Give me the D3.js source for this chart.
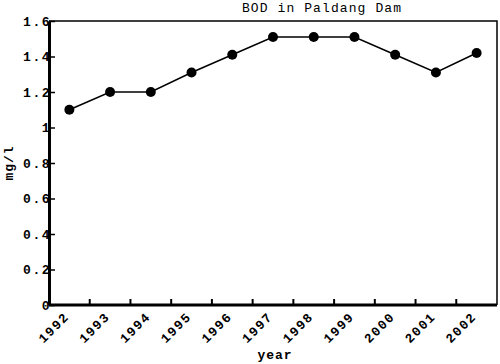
<!DOCTYPE html>
<html>
<head>
<meta charset="utf-8">
<script src="https://cdn.jsdelivr.net/npm/d3@7"></script>
<style>
  body { margin: 0; background: #fff; }
  text { font-family: "Liberation Mono", "DejaVu Sans Mono", monospace; }
</style>
</head>
<body>
<script>
// Daten
const years = ["1992", "1993", "1994", "1995", "1996", "1997", "1998", "1999", "2000", "2001", "2002"];
const bod = [1.1, 1.2, 1.2, 1.31, 1.41, 1.51, 1.51, 1.51, 1.41, 1.31, 1.42];
const yTicks = [0, 0.2, 0.4, 0.6, 0.8, 1, 1.2, 1.4, 1.6];

const margin = {top: 21, right: 3, bottom: 59, left: 49},
      width = 500 - margin.left - margin.right,
      height = 364 - margin.top - margin.bottom;

const svg = d3.select("body").append("svg")
    .attr("width", 500)
    .attr("height", 364);

const g = svg.append("g")
    .attr("transform", `translate(${margin.left},${margin.top})`);

// Skalen
const x = d3.scaleBand().domain(years).range([0, width]);
const y = d3.scaleLinear().domain([0, 1.6]).range([height, 0]);

// Rahmen oben/rechts
g.append("path")
    .attr("d", `M0,0H${width}V${height}`)
    .attr("fill", "none")
    .attr("stroke", "#000")
    .attr("stroke-width", 1.5);

// Y-Achse
const yAxis = g.append("g")
    .call(d3.axisLeft(y).tickValues(yTicks).tickSizeInner(-6).tickSizeOuter(0).tickPadding(0)
        .tickFormat(d => d3.format("")(d)));
yAxis.select(".domain").attr("stroke-width", 3);
yAxis.selectAll(".tick line").attr("stroke-width", 1.5);
yAxis.selectAll(".tick text")
    .attr("font-size", 13)
    .attr("font-weight", "bold")
    .attr("letter-spacing", 1.5)
    .attr("x", 2)
    .attr("fill", "#000");

// X-Achse: Ticks an den Bandgrenzen
const xAxis = g.append("g")
    .attr("transform", `translate(0,${height})`);
xAxis.append("line")
    .attr("x1", 0).attr("x2", width)
    .attr("stroke", "#000").attr("stroke-width", 3);
xAxis.selectAll("line.tk")
    .data(years.slice(1))
    .join("line")
    .attr("class", "tk")
    .attr("x1", d => x(d)).attr("x2", d => x(d))
    .attr("y1", 0).attr("y2", -6)
    .attr("stroke", "#000").attr("stroke-width", 2);
xAxis.selectAll("text")
    .data(years)
    .join("text")
    .attr("transform", d => `translate(${x(d) + x.bandwidth() / 2 - 6},${6}) rotate(-45)`)
    .attr("text-anchor", "end")
    .attr("dy", "0.7em")
    .attr("font-size", 13)
    .attr("font-weight", "bold")
    .attr("letter-spacing", 1.5)
    .text(d => d);

// Linie und Punkte
const line = d3.line()
    .x((d, i) => x(years[i]) + x.bandwidth() / 2)
    .y(d => y(d));

g.append("path")
    .datum(bod)
    .attr("d", line)
    .attr("fill", "none")
    .attr("stroke", "#000")
    .attr("stroke-width", 1.5);

g.selectAll("circle")
    .data(bod)
    .join("circle")
    .attr("cx", (d, i) => x(years[i]) + x.bandwidth() / 2)
    .attr("cy", d => y(d))
    .attr("r", 5)
    .attr("fill", "#000");

// Beschriftungen
svg.append("text")
    .attr("x", 322)
    .attr("y", 12)
    .attr("text-anchor", "middle")
    .attr("font-size", 13)
    .attr("letter-spacing", 1.1)
    .text("BOD in Paldang Dam");

svg.append("text")
    .attr("x", margin.left + width / 2 + 2)
    .attr("y", 359)
    .attr("text-anchor", "middle")
    .attr("font-size", 13)
    .attr("font-weight", "bold")
    .attr("letter-spacing", 1)
    .text("year");

svg.append("text")
    .attr("transform", `translate(13,${margin.top + height / 2}) rotate(-90)`)
    .attr("text-anchor", "middle")
    .attr("font-size", 13)
    .attr("font-weight", "bold")
    .attr("letter-spacing", 1)
    .text("mg/l");
</script>
</body>
</html>
